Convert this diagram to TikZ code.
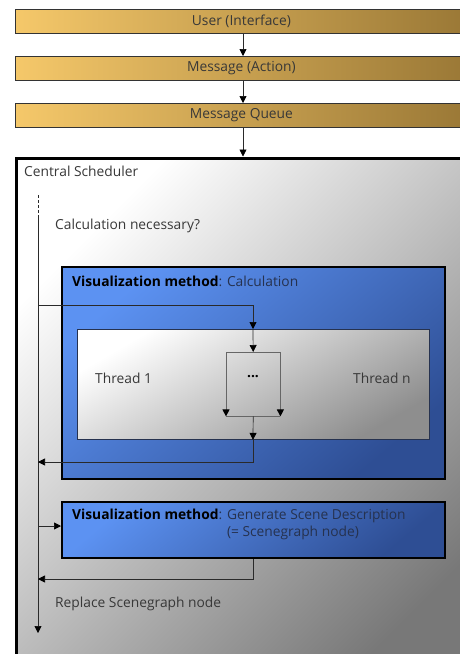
\documentclass[tikz,border=0pt]{standalone}
\usepackage{fontspec}
\setmainfont{Open Sans}
\usetikzlibrary{arrows.meta}
\definecolor{goldL}{HTML}{F5C86A}
\definecolor{goldD}{HTML}{9A7836}
\definecolor{blueL}{HTML}{5C92F2}
\definecolor{blueD}{HTML}{2E4E94}
\definecolor{grayD}{HTML}{787878}
\definecolor{grayM}{HTML}{8E8E8E}
\definecolor{txt}{HTML}{383838}
\definecolor{btxt}{HTML}{26324F}
\definecolor{ln}{HTML}{2A2A2A}
\begin{document}
\begin{tikzpicture}[x=1pt,y=-1pt,
  font=\fontsize{13.8}{16}\selectfont,
  bar/.style={draw=black!80, line width=0.8pt, shading=axis, left color=goldL, right color=goldD,
    minimum width=452pt, minimum height=24pt, anchor=north west, inner sep=0pt, text=txt},
  mainbox/.style={draw=black, line width=3pt, top color=white, bottom color=grayD, shading angle=45,
    minimum width=480pt, minimum height=520pt, anchor=north west, inner sep=0pt},
  bluebox/.style={draw=black, line width=2.2pt, top color=blueL, bottom color=blueD, shading angle=40,
    anchor=north west, inner sep=0pt},
  graybox/.style={draw=btxt, line width=0.8pt, top color=white, bottom color=grayM, shading angle=30,
    anchor=north west, inner sep=0pt},
  lbl/.style={anchor=west, inner sep=0pt, text=txt},
  tip/.style={-{Triangle[width=7pt,length=7pt,color=black,fill=black]}},
  arr/.style={draw=ln, line width=0.7pt, tip},
  ln/.style={draw=ln, line width=0.7pt},
  smallln/.style={draw=black!60, line width=0.9pt}
]
\useasboundingbox (0,0) rectangle (460,654);
\clip (0,0) rectangle (460,654);
\fill[white] (0,0) rectangle (460,654);

% top bars
\node[bar] (user) at (15,9) {User (Interface)};
\node[bar] (msg) at (15,56) {Message (Action)};
\node[bar] (queue) at (15,103) {Message Queue};
\coordinate (ax) at (243,0);

% central scheduler
\node[mainbox] (cs) at (14.5,156.5) {};
\draw[arr] (user.south -| ax) -- (msg.north -| ax);
\draw[arr] (msg.south -| ax) -- (queue.north -| ax);
\draw[arr] (queue.south -| ax) -- (cs.north -| ax);
\node[lbl] (cstext) at (24,171) {Central Scheduler};

% blue box 1
\node[bluebox, minimum width=383pt, minimum height=212pt] (b1) at (61,266) {};
\node[lbl, text=btxt] (b1text) at (72,281) {\textbf{\color{black}Visualization method}: Calculation};
% inner gray
\node[graybox, minimum width=352pt, minimum height=110pt] (g) at (77,329) {};
\node[lbl] (t1) at (95,378) {Thread 1};
\node[lbl] (tn) at (353,378) {Thread n};
% small box
\node[anchor=north west, minimum width=54pt, minimum height=64pt, inner sep=0pt] (sb) at (226,352) {};
\node[text=black, inner sep=0pt] (dots) at (253,377) {\textbf{...}};
\draw[smallln] (sb.north west) -- (sb.north east);
\draw[smallln] (sb.south west) -- (sb.south east);
\draw[smallln, tip] (sb.north west) -- (sb.south west);
\draw[smallln, tip] (sb.north east) -- (sb.south east);

% blue box 2
\node[bluebox, minimum width=383pt, minimum height=56pt] (b2) at (61,501) {};
\node[lbl, text=btxt] (b2text) at (72,516) {\textbf{\color{black}Visualization method}: Generate Scene Description};
\node[lbl, text=btxt] (b2text2) at (72,533) {\phantom{\textbf{Visualization method}: }(= Scenegraph node)};

% labels
\node[lbl] (calc) at (55,226) {Calculation necessary?};
\node[lbl] (repl) at (55,604) {Replace Scenegraph node};

% main flow line
\coordinate (m0) at (38,195);
\coordinate (m1) at (38,218);
\coordinate (m2) at (38,633);
\coordinate (cx) at (253,0);
\draw[ln, dash pattern=on 3pt off 2pt] (m0) -- (m1);
\draw[arr] (m1) -- (m2);

% calculation branch
\coordinate (br1) at (38,305);
\draw[arr] (br1) -- (br1 -| cx) -- (g.north -| cx);
\draw[arr] (g.north -| cx) -- (sb.north);
\draw[arr] (sb.south) -- (g.south -| cx);
\coordinate (ret1) at (38,462);
\draw[arr] (g.south -| cx) -- (ret1 -| cx) -- (ret1);

% second branch
\coordinate (br2) at (38,526);
\draw[arr] (br2) -- (br2 -| b2.west);
\coordinate (ret2) at (38,579);
\draw[arr] (b2.south -| cx) -- (ret2 -| cx) -- (ret2);
\end{tikzpicture}
\end{document}
